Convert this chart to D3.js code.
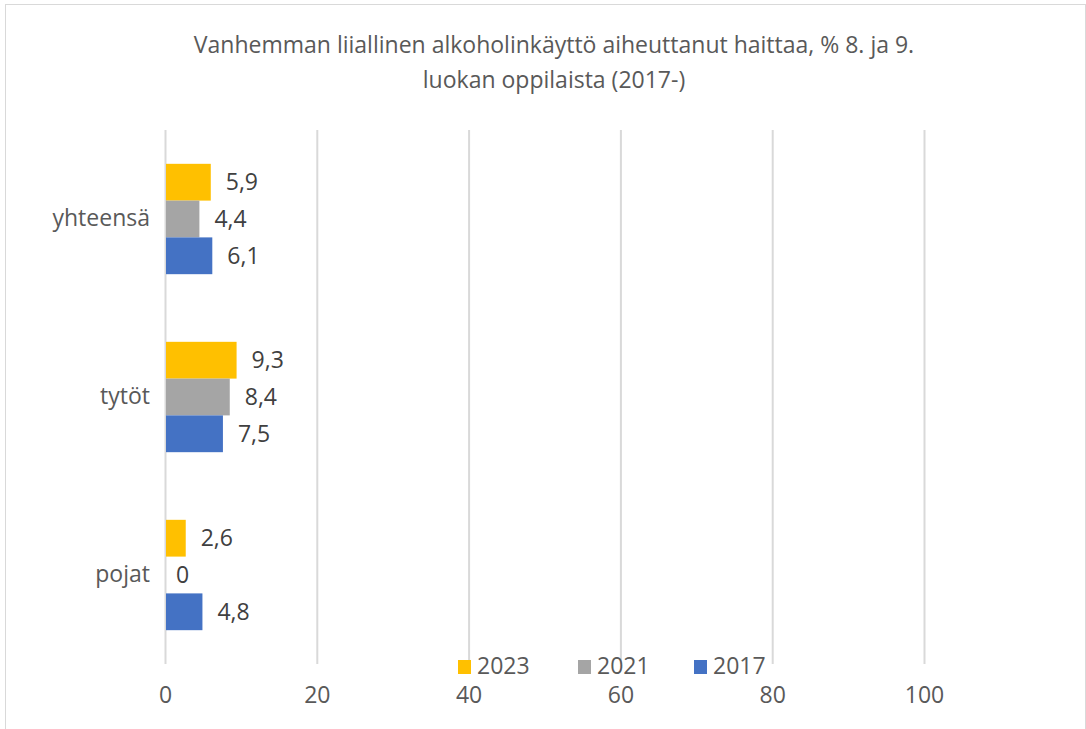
<!DOCTYPE html>
<html>
<head>
<meta charset="utf-8">
<script src="https://cdn.jsdelivr.net/npm/d3@7"></script>
<style>
  body { margin: 0; background: #fff; }
  text { font-family: "Open Sans", "Noto Sans", sans-serif; }
</style>
</head>
<body>
<div id="chart"></div>
<script>
// data
var categories = ['yhteensä', 'tytöt', 'pojat'];
var seriesNames = ['2023', '2021', '2017'];
var values2023 = [5.9, 9.3, 2.6];
var values2021 = [4.4, 8.4, 0];
var values2017 = [6.1, 7.5, 4.8];
var xTicks = [0, 20, 40, 60, 80, 100];
var colors = ['#FFC000', '#A5A5A5', '#4472C4'];

var width = 1086, height = 729;
var margin = {left: 165, right: 162, top: 130, bottom: 65};
var fontSize = '23px';

var series = [values2023, values2021, values2017];

var svg = d3.select('#chart').append('svg')
  .attr('width', width)
  .attr('height', height);

// chart border
svg.append('rect')
  .attr('x', 5.5).attr('y', 4.5)
  .attr('width', 1080).attr('height', 740)
  .attr('fill', '#fff')
  .attr('stroke', '#d9d9d9');

// title
var title = svg.append('text')
  .attr('text-anchor', 'middle')
  .attr('fill', '#595959')
  .style('font-size', fontSize);
title.append('tspan').attr('x', 554).attr('y', 53)
  .text('Vanhemman liiallinen alkoholinkäyttö aiheuttanut haittaa, % 8. ja 9.');
title.append('tspan').attr('x', 554).attr('y', 88)
  .text('luokan oppilaista (2017-)');

var x = d3.scaleLinear().domain([0, 100]).range([margin.left, width - margin.right]);
var y = d3.scaleBand().domain(categories).range([margin.top, height - margin.bottom]).paddingInner(0.38).paddingOuter(0.19);
var ySub = d3.scaleBand().domain(seriesNames).range([0, y.bandwidth()]);

// gridlines
svg.append('g').selectAll('line')
  .data(xTicks)
  .join('line')
  .attr('x1', function(d) { return x(d) + 0.5; })
  .attr('x2', function(d) { return x(d) + 0.5; })
  .attr('y1', margin.top)
  .attr('y2', height - margin.bottom)
  .attr('stroke', '#d9d9d9')
  .attr('stroke-width', 2);

// x axis labels
var xAxis = svg.append('g')
  .attr('transform', 'translate(0,' + (height - margin.bottom) + ')')
  .call(d3.axisBottom(x).tickValues(xTicks).tickSize(0).tickPadding(23));
xAxis.select('.domain').remove();
xAxis.selectAll('text')
  .attr('fill', '#595959')
  .style('font-size', fontSize)
  .style('font-family', '"Open Sans", sans-serif');

// y category labels
var yAxis = svg.append('g')
  .attr('transform', 'translate(' + margin.left + ',0)')
  .call(d3.axisLeft(y).tickSize(0).tickPadding(15));
yAxis.select('.domain').remove();
yAxis.selectAll('text')
  .attr('fill', '#595959')
  .style('font-size', fontSize)
  .style('font-family', '"Open Sans", sans-serif');

// bars
var fmt = function(v) { return String(v).replace('.', ','); };
series.forEach(function(vals, si) {
  var g = svg.append('g');
  g.selectAll('rect')
    .data(vals)
    .join('rect')
    .attr('x', x(0) + 1)
    .attr('y', function(d, i) { return y(categories[i]) + ySub(seriesNames[si]); })
    .attr('width', function(d) { return x(d) - x(0); })
    .attr('height', ySub.bandwidth())
    .attr('fill', colors[si]);
  g.selectAll('text')
    .data(vals)
    .join('text')
    .attr('x', function(d) { return x(d) + (d === 0 ? 11 : 16); })
    .attr('y', function(d, i) { return y(categories[i]) + ySub(seriesNames[si]) + ySub.bandwidth() / 2; })
    .attr('dy', '0.35em')
    .attr('fill', '#404040')
    .style('font-size', fontSize)
    .text(fmt);
});

// legend
var legendX = [458, 578, 694];
var legend = svg.append('g');
seriesNames.forEach(function(name, i) {
  legend.append('rect')
    .attr('x', legendX[i]).attr('y', 660)
    .attr('width', 13).attr('height', 14)
    .attr('fill', colors[i]);
  legend.append('text')
    .attr('x', legendX[i] + 19).attr('y', 666)
    .attr('dy', '0.35em')
    .attr('fill', '#595959')
    .style('font-size', fontSize)
    .text(name);
});
</script>
</body>
</html>
